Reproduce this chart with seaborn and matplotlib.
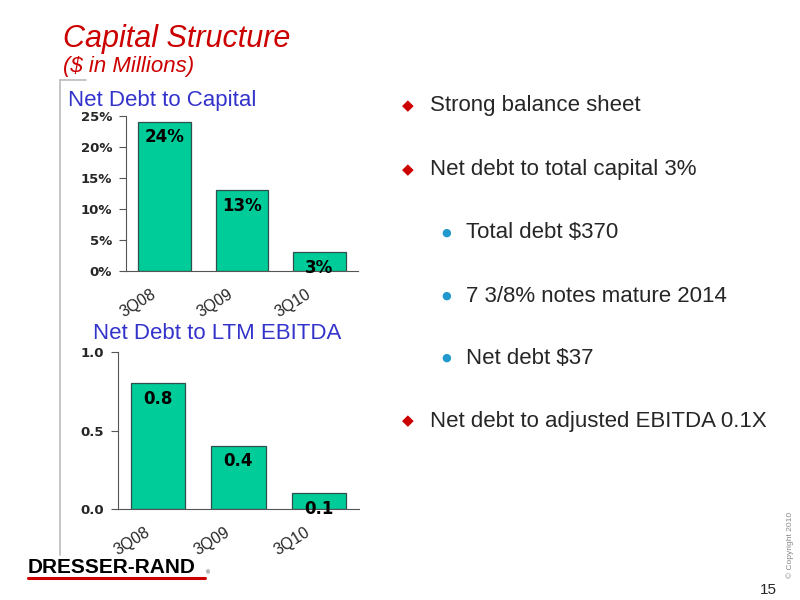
import matplotlib
matplotlib.use('Agg')
import matplotlib.pyplot as plt
import matplotlib.ticker as mticker
import matplotlib.transforms as mtransforms
from matplotlib.lines import Line2D
import seaborn as sns

# data
quarters = ["3Q08", "3Q09", "3Q10"]
debt_to_capital = [24, 13, 3]          # percent
debt_to_ebitda = [0.8, 0.4, 0.1]       # times

bullets = [
    ("main", "Strong balance sheet"),
    ("main", "Net debt to total capital 3%"),
    ("sub", "Total debt $370"),
    ("sub", "7 3/8% notes mature 2014"),
    ("sub", "Net debt $37"),
    ("main", "Net debt to adjusted EBITDA 0.1X"),
]

sns.set_style("white")
plt.rcParams['font.family'] = ['Liberation Sans', 'DejaVu Sans']

bar_color = "#00CC99"
red = "#CC0000"
blue = "#3333CC"

fig = plt.figure(figsize=(8, 6), dpi=100)


def bar_panel(ax, values, fmt, ylim, yticks, yfmt):
    sns.barplot(x=quarters, y=values, color=bar_color, saturation=1,
                edgecolor="#2F4F4F", linewidth=0.9, width=0.68, ax=ax)
    ax.set_xlim(-0.5, 2.5)
    ax.set_ylim(*ylim)
    ax.set_yticks(yticks)
    ax.yaxis.set_major_formatter(yfmt)
    for lbl in ax.get_yticklabels():
        lbl.set_family('DejaVu Sans')
        lbl.set_fontweight('bold')
        lbl.set_fontsize(9.5)
    # ticks sit between the categories
    ax.set_xticks([-0.5, 0.5, 1.5, 2.5], minor=True)
    ax.tick_params(axis='x', which='major', length=0, pad=11)
    ax.tick_params(axis='x', which='minor', length=4, width=0.8, color="#555555", direction='out')
    ax.tick_params(axis='y', length=5, width=0.8, color="#555555", direction='out', left=True, pad=5)
    ax.set_xticks(range(len(quarters)))
    ax.set_xticklabels(quarters, rotation=32, ha='right', va='top', fontsize=11.5)
    shift = mtransforms.ScaledTranslation(-6 / 100, 0, fig.dpi_scale_trans)
    for lbl in ax.get_xticklabels():
        lbl.set_transform(lbl.get_transform() + shift)
    for s in ['top', 'right']:
        ax.spines[s].set_visible(False)
    for s in ['left', 'bottom']:
        ax.spines[s].set_color("#555555")
        ax.spines[s].set_linewidth(0.8)
    ax.set_xlabel("")
    ax.set_ylabel("")
    for i, v in enumerate(values):
        t = ax.annotate(fmt.format(v), (i, v), xytext=(0, -11), textcoords='offset points',
                        ha='center', va='center', fontsize=12, fontweight='bold',
                        family='DejaVu Sans', color='black')
        t.set_clip_on(True)


ax1 = fig.add_axes([126 / 800, 1 - 271 / 600, 232 / 800, 155 / 600])
bar_panel(ax1, debt_to_capital, "{}%", (0, 25), [0, 5, 10, 15, 20, 25],
          mticker.PercentFormatter(decimals=0))

ax2 = fig.add_axes([118 / 800, 1 - 509 / 600, 241 / 800, 157 / 600])
bar_panel(ax2, debt_to_ebitda, "{}", (0, 1.0), [0.0, 0.5, 1.0],
          mticker.FormatStrFormatter('%.1f'))

# titles
fig.text(63 / 800, 1 - 47 / 600, "Capital Structure", color=red, fontsize=22,
         style='italic', ha='left', va='baseline')
fig.text(63 / 800, 1 - 72 / 600, "($ in Millions)", color=red, fontsize=16,
         style='italic', ha='left', va='baseline')
fig.text(68 / 800, 1 - 106 / 600, "Net Debt to Capital", color=blue, fontsize=16,
         ha='left', va='baseline')
fig.text(93 / 800, 1 - 339 / 600, "Net Debt to LTM EBITDA", color=blue, fontsize=16,
         ha='left', va='baseline')

# gray bracket on the left
fig.add_artist(Line2D([60 / 800, 60 / 800], [1 - 80 / 600, 1 - 555 / 600],
                      color="#BBBBBB", linewidth=1.2))
fig.add_artist(Line2D([60 / 800, 86 / 800], [1 - 80 / 600, 1 - 80 / 600],
                      color="#BBBBBB", linewidth=1.2))

# bullet list
ys = [106, 170, 233, 296, 358, 421]
for (kind, txt), y in zip(bullets, ys):
    if kind == "main":
        fig.text(408 / 800, 1 - y / 600, "\u25C6", color=red, fontsize=11,
                 family='DejaVu Sans', ha='center', va='center')
        fig.text(430 / 800, 1 - y / 600, txt, fontsize=16, ha='left', va='center')
    else:
        fig.text(446 / 800, 1 - y / 600, "\u25CF", color="#2299CC", fontsize=8,
                 family='DejaVu Sans', ha='center', va='center')
        fig.text(466 / 800, 1 - y / 600, txt, fontsize=16, ha='left', va='center')

# logo
fig.text(28 / 800, 1 - 573 / 600, "DRESSER-RAND", fontsize=15, fontweight='bold',
         ha='left', va='baseline', color='black')
fig.text(206 / 800, 1 - 574 / 600, "\u00AE", fontsize=4, ha='left', va='baseline')
fig.add_artist(Line2D([28 / 800, 205 / 800], [1 - 578 / 600, 1 - 578 / 600],
                      color=red, linewidth=2.2))

# footer
fig.text(790 / 800, 1 - 545 / 600, "\u00A9 Copyright 2010", rotation=90, fontsize=6,
         color="#888888", ha='center', va='center')
fig.text(768 / 800, 1 - 590 / 600, "15", fontsize=11, ha='center', va='center')

fig.savefig("out.png", dpi=100, facecolor='white')
